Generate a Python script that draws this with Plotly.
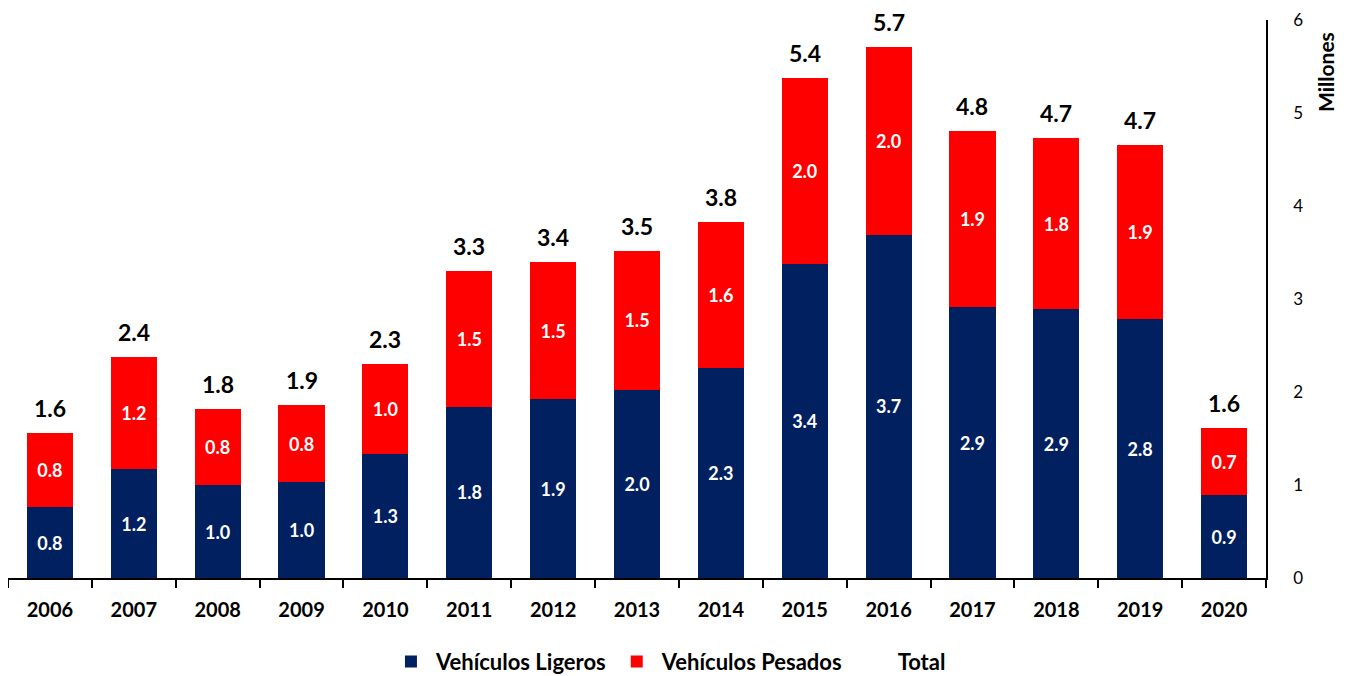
import plotly.graph_objects as go

years = ["2006", "2007", "2008", "2009", "2010", "2011", "2012", "2013",
         "2014", "2015", "2016", "2017", "2018", "2019", "2020"]
ligeros = [0.76, 1.17, 1.00, 1.03, 1.33, 1.84, 1.92, 2.02, 2.26, 3.38, 3.69, 2.91, 2.89, 2.78, 0.89]
pesados = [0.80, 1.21, 0.82, 0.83, 0.97, 1.46, 1.48, 1.50, 1.57, 2.00, 2.02, 1.90, 1.84, 1.88, 0.72]
totales = [round(a + b, 2) for a, b in zip(ligeros, pesados)]
y_ticks = [0, 1, 2, 3, 4, 5, 6]

FONT = "Lato"
NAVY = "#002060"
RED = "#FF0000"

fig = go.Figure()
fig.add_trace(go.Bar(
    x=years, y=ligeros, name="Vehículos Ligeros",
    marker=dict(color=NAVY, line=dict(width=0)),
    text=[f"{v:.1f}" for v in ligeros], textposition="inside",
    insidetextanchor="middle", textangle=0,
    textfont=dict(family=FONT, size=18, color="white", weight="bold"),
))
fig.add_trace(go.Bar(
    x=years, y=pesados, name="Vehículos Pesados",
    marker=dict(color=RED, line=dict(width=0)),
    text=[f"{v:.1f}" for v in pesados], textposition="inside",
    insidetextanchor="middle", textangle=0,
    textfont=dict(family=FONT, size=18, color="white", weight="bold"),
))
fig.add_trace(go.Scatter(
    x=years, y=totales, name="Total", mode="markers",
    marker=dict(color="rgba(0,0,0,0)", size=10),
))

for i, t in enumerate(totales):
    fig.add_annotation(x=i, y=t, text=f"{t:.1f}", showarrow=False,
                       yanchor="bottom", yshift=10, borderpad=0,
                       font=dict(family=FONT, size=23, color="black", weight="bold"))

fig.add_annotation(xref="paper", yref="paper", x=1.0, y=1.0, xshift=59, yshift=-10,
                   text="Millones", textangle=-90, showarrow=False,
                   xanchor="center", yanchor="top",
                   font=dict(family=FONT, size=21, color="black", weight="bold"))

fig.update_layout(
    width=1339, height=668,
    barmode="stack", bargap=0.45,
    plot_bgcolor="white", paper_bgcolor="white",
    margin=dict(l=0, r=81, t=12, b=98, autoexpand=False),
    font=dict(family=FONT, color="black"),
    showlegend=True,
    legend=dict(orientation="h", x=0.525, xanchor="center", y=-0.15, yanchor="middle",
                font=dict(family=FONT, size=22, color="black", weight="bold"),
                itemwidth=40, tracegroupgap=0, traceorder="normal"),
)
fig.update_xaxes(
    type="category", range=[-0.5, len(years) - 0.5],
    showline=True, linecolor="black", linewidth=2,
    ticks="outside", tickson="boundaries", ticklen=8, tickcolor="black", tickwidth=2,
    tickfont=dict(family=FONT, size=20, color="black", weight="bold"),
    ticklabelstandoff=13, showgrid=False, tickangle=0, automargin=False,
)
fig.update_yaxes(
    side="right", range=[0, 6], tickvals=y_ticks, ticktext=[str(v) for v in y_ticks],
    showline=True, linecolor="black", linewidth=1.5, ticks="", showgrid=False,
    zeroline=False, tickfont=dict(family=FONT, size=17, color="black"),
    ticklabelstandoff=22, automargin=False,
)

fig.write_html("out.html")
